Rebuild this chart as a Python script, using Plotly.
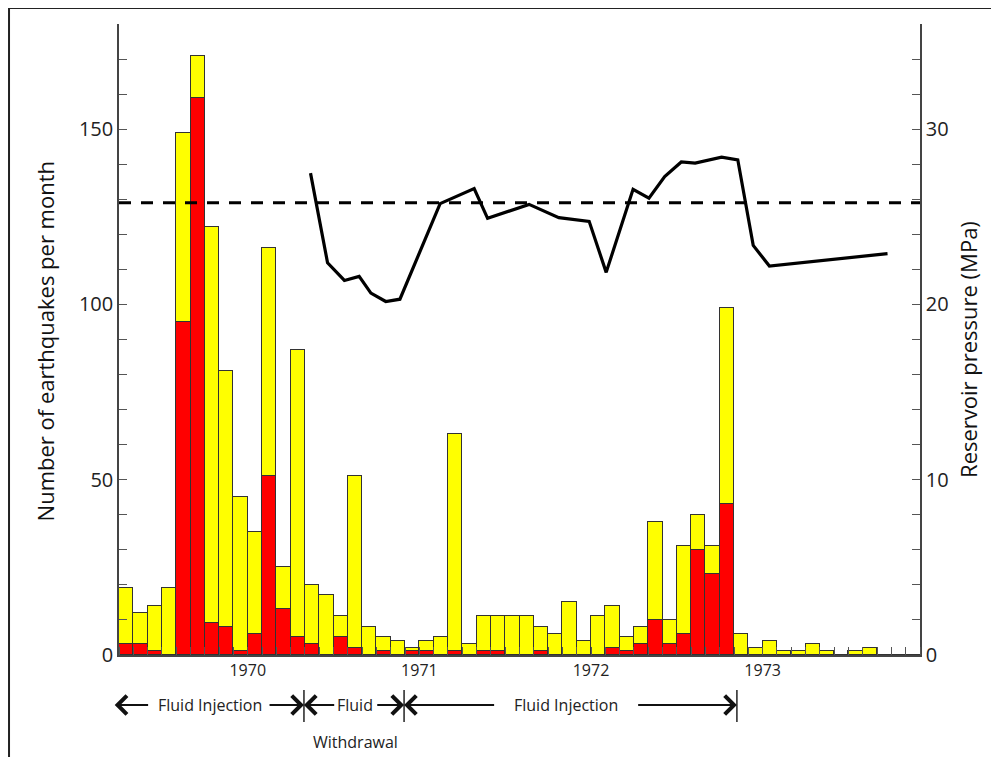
import plotly.graph_objects as go

# ---------------- data ----------------
# month index 0 = Oct 1969 ... 55 = May 1974
months = list(range(56))
total_quakes = [19, 12, 14, 19, 149, 171, 122, 81, 45, 35, 116, 25, 87, 20, 17,
                11, 51, 8, 5, 4, 2, 4, 5, 63, 3, 11, 11, 11, 11, 8, 6, 15, 4, 11,
                14, 5, 8, 38, 10, 31, 40, 31, 99, 6, 2, 4, 1, 1, 3, 1, 0, 1, 2, 0, 0, 0]
large_quakes = [3, 3, 1, 0, 95, 159, 9, 8, 1, 6, 51, 13, 5, 3, 0,
                5, 2, 0, 1, 0, 1, 1, 0, 1, 0, 1, 1, 0, 0, 1, 0, 0, 0, 0,
                2, 1, 3, 10, 3, 6, 30, 23, 43, 0, 0, 0, 0, 0, 0, 0, 0, 0, 0, 0, 0, 0]
small_quakes = [t - l for t, l in zip(total_quakes, large_quakes)]

pressure_month = [13.39, 14.58, 15.76, 16.79, 17.61, 18.65, 19.64, 22.45, 24.83,
                  25.77, 28.67, 30.75, 32.87, 34.06, 35.94, 37.05, 38.15, 39.31,
                  40.28, 42.13, 43.26, 44.34, 45.47, 53.73]
pressure_mpa = [27.49, 22.38, 21.37, 21.60, 20.65, 20.17, 20.30, 25.75, 26.61,
                24.91, 25.71, 24.95, 24.74, 21.83, 26.57, 26.06, 27.30, 28.13,
                28.06, 28.40, 28.25, 23.37, 22.19, 22.90]
threshold_mpa = 25.8

x_range = [0, 56]
year_bounds = [3, 15, 27, 39, 51]
year_mid = [9, 21, 33, 45]
year_labels = ["1970", "1971", "1972", "1973"]

# phase annotations (months)
phase_bounds = [-0.3, 12.93, 19.93, 43.2]
phase_labels = ["Fluid Injection", "Fluid", "Fluid Injection"]
phase_text_x = [6.36, 16.5, 31.25]
phase_tails = [(2.14, 10.42), (15.15, 17.95), (26.33, 36.19)]

FONT = "Open Sans, Lato, sans-serif"
LINE = "#444444"

fig = go.Figure()
xc = [m + 0.5 for m in months]
fig.add_trace(go.Bar(x=xc, y=large_quakes, width=1, marker_color="#FF0000",
                     marker_line=dict(color="#333333", width=1), showlegend=False))
fig.add_trace(go.Bar(x=xc, y=small_quakes, width=1, marker_color="#FFFF00",
                     marker_line=dict(color="#333333", width=1), showlegend=False))
fig.add_trace(go.Scatter(x=x_range, y=[threshold_mpa] * 2, yaxis="y2", mode="lines",
                         line=dict(color="black", width=3, dash="12px,10px"),
                         showlegend=False))
fig.add_trace(go.Scatter(x=pressure_month, y=pressure_mpa, yaxis="y2", mode="lines",
                         line=dict(color="black", width=3.2), showlegend=False))

fig.update_layout(
    width=991, height=749,
    margin=dict(l=111, r=79, t=16, b=102),
    paper_bgcolor="white", plot_bgcolor="white",
    barmode="stack", bargap=0,
    font=dict(family=FONT, color="#222222"),
    xaxis=dict(range=x_range, tickmode="array", tickvals=year_mid, ticktext=year_labels,
               ticks="", showline=True, linecolor=LINE, linewidth=1.5,
               showgrid=False, zeroline=False, tickfont=dict(size=16),
               minor=dict(tickmode="array", tickvals=list(range(57)), ticks="inside",
                          ticklen=8, tickcolor="#555555", tickwidth=1)),
    xaxis2=dict(range=x_range, overlaying="x", side="bottom", anchor="y",
                tickmode="array", tickvals=year_bounds, ticktext=[""] * len(year_bounds),
                ticks="outside", ticklen=16, tickwidth=1.5, tickcolor="#333333",
                showline=False, showgrid=False, zeroline=False, showticklabels=False),
    xaxis3=dict(range=x_range, overlaying="x", side="top", anchor="y",
                tickmode="array", tickvals=list(range(57)), ticks="inside", ticklen=8,
                tickcolor="#555555", showticklabels=False, showline=True,
                linecolor=LINE, linewidth=1.5, showgrid=False, zeroline=False),
    yaxis=dict(range=[0, 180], tickmode="linear", tick0=0, dtick=50, ticks="inside",
               ticklen=8, tickcolor="#555555", showline=True, linecolor=LINE,
               linewidth=1.5, showgrid=False, zeroline=False, tickfont=dict(size=20),
               minor=dict(dtick=10, tick0=0, ticks="inside", ticklen=8,
                          tickcolor="#555555")),
    yaxis2=dict(range=[0, 36], overlaying="y", side="right", tickmode="linear", tick0=0,
                dtick=10, ticks="inside", ticklen=8, tickcolor="#555555", showline=True,
                linecolor=LINE, linewidth=1.5, showgrid=False, zeroline=False,
                tickfont=dict(size=20),
                minor=dict(dtick=2, tick0=0, ticks="inside", ticklen=8,
                           tickcolor="#555555")),
)

# axis titles
fig.add_annotation(text="Number of earthquakes per month", xref="paper", yref="paper",
                   x=-0.0924, y=0.497, textangle=-90, showarrow=False,
                   xanchor="center", yanchor="middle",
                   font=dict(size=22, color="#111111"))
fig.add_annotation(text="Reservoir pressure (MPa)", xref="paper", yref="paper",
                   x=1.0599, y=0.485, textangle=-90, showarrow=False,
                   xanchor="center", yanchor="middle",
                   font=dict(size=22, color="#111111"))

# outer frame
fig.add_shape(type="line", xref="paper", yref="paper", x0=-0.1373, x1=-0.1373,
              y0=-0.17, y1=1.0254, line=dict(color="#222222", width=2))
fig.add_shape(type="line", xref="paper", yref="paper", x0=-0.1373, x1=1.11,
              y0=1.0254, y1=1.0254, line=dict(color="#222222", width=2))

# phase annotations
row_y = -0.0792
for b in phase_bounds[1:]:
    fig.add_shape(type="line", xref="x", yref="paper", x0=b, x1=b, y0=-0.0555,
                  y1=-0.1062, line=dict(color="#222222", width=1.5))
for i, label in enumerate(phase_labels):
    a, b = phase_bounds[i], phase_bounds[i + 1]
    la, rb = phase_tails[i]
    fig.add_annotation(text=label, x=phase_text_x[i], y=row_y, xref="x", yref="paper",
                       xanchor="center", yanchor="middle",
                       showarrow=False, font=dict(size=16, color="#222222"))
    for tip, tail in ((a, la), (b, rb)):
        fig.add_annotation(text="", x=tip, y=row_y, xref="x", yref="paper",
                           ax=tail, ay=0, axref="x", ayref="pixel", showarrow=True,
                           arrowhead=4, arrowsize=1.8, arrowwidth=2,
                           arrowcolor="#111111", standoff=0)
fig.add_annotation(text="Withdrawal", x=phase_text_x[1], y=-0.1379, xref="x",
                   yref="paper", xanchor="center", yanchor="middle",
                   showarrow=False, font=dict(size=16, color="#222222"))

fig.write_html("out.html")
